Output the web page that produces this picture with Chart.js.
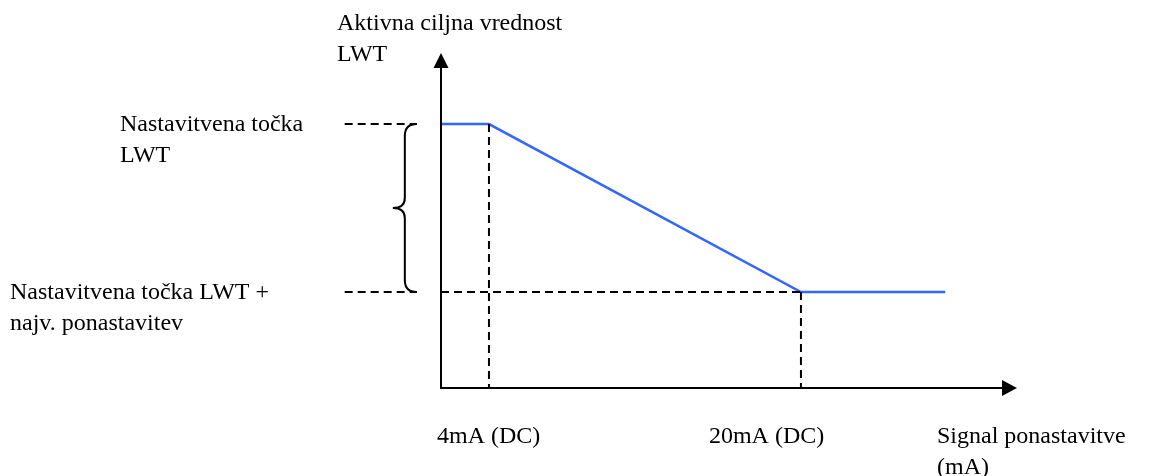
<!DOCTYPE html>
<html>
<head>
<meta charset="utf-8">
<script src="https://cdn.jsdelivr.net/npm/chart.js@4/dist/chart.umd.min.js"></script>
<style>
  html, body { margin: 0; padding: 0; background: #fff; }
  canvas { display: block; }
</style>
</head>
<body>
<canvas id="chart" width="1150" height="476"></canvas>
<script>
// reset signal (mA) and active LWT target (arbitrary units)
const signalMA = [1.54, 4, 20, 27.4];
const targetLWT = [11, 11, 4, 4];

// the two marked levels: setpoint and setpoint + max reset
const levelValues = [11, 4];
const levelLabels = [['Nastavitvena točka', 'LWT'], ['Nastavitvena točka LWT +', 'najv. ponastavitev']];

// marked signal values on the x axis
const tickMA = [4, 20];
const tickLabels = ['4mA (DC)', '20mA (DC)'];

const yTitle = ['Aktivna ciljna vrednost', 'LWT'];
const xTitle = ['Signal ponastavitve', '(mA)'];

// leader lines left of the y axis run between these x values
const leaderFrom = -3.4;
const leaderTo = 0.3;

const FONT = '24px "Liberation Serif", "Times New Roman", serif';
const BLUE = '#3366ff';

function dashed(data) {
  return {
    data: data,
    borderColor: '#000',
    borderWidth: 2,
    borderDash: [8, 5],
    pointRadius: 0,
    tension: 0,
    clip: false,
  };
}

const datasets = [];
// horizontal leaders to the level labels
levelValues.forEach(v => {
  datasets.push(dashed([{ x: leaderFrom, y: v }, { x: leaderTo, y: v }]));
});
// lower level continues inside the plot up to 20 mA
datasets.push(dashed([{ x: signalMA[0], y: levelValues[1] }, { x: tickMA[1], y: levelValues[1] }]));
// drops from the break points to the x axis
datasets.push(dashed([{ x: tickMA[0], y: targetLWT[1] }, { x: tickMA[0], y: 0 }]));
datasets.push(dashed([{ x: tickMA[1], y: targetLWT[2] }, { x: tickMA[1], y: 0 }]));
// the reset curve itself
datasets.push({
  data: signalMA.map((x, i) => ({ x: x, y: targetLWT[i] })),
  borderColor: BLUE,
  borderWidth: 2.5,
  pointRadius: 0,
  tension: 0,
  clip: false,
});

const decorations = {
  id: 'decorations',
  afterDraw(chart) {
    const ctx = chart.ctx;
    const area = chart.chartArea;
    const xs = chart.scales.x;
    const ys = chart.scales.y;
    ctx.save();

    // axes with arrow heads
    ctx.strokeStyle = '#000';
    ctx.fillStyle = '#000';
    ctx.lineWidth = 2;
    ctx.beginPath();
    ctx.moveTo(area.left, area.top + 12);
    ctx.lineTo(area.left, area.bottom);
    ctx.lineTo(area.right - 12, area.bottom);
    ctx.stroke();

    ctx.beginPath();
    ctx.moveTo(area.left, area.top);
    ctx.lineTo(area.left - 7.5, area.top + 15);
    ctx.lineTo(area.left + 7.5, area.top + 15);
    ctx.closePath();
    ctx.fill();

    ctx.beginPath();
    ctx.moveTo(area.right, area.bottom);
    ctx.lineTo(area.right - 15, area.bottom - 8);
    ctx.lineTo(area.right - 15, area.bottom + 8);
    ctx.closePath();
    ctx.fill();

    // curly brace between the two levels
    const yTop = ys.getPixelForValue(levelValues[0]);
    const yBot = ys.getPixelForValue(levelValues[1]);
    const yMid = (yTop + yBot) / 2;
    const hook = xs.getPixelForValue(leaderTo);
    const stem = hook - 12;
    const tip = stem - 12;
    ctx.beginPath();
    ctx.moveTo(hook, yTop);
    ctx.quadraticCurveTo(stem, yTop, stem, yTop + 12);
    ctx.lineTo(stem, yMid - 10);
    ctx.quadraticCurveTo(stem, yMid, tip, yMid);
    ctx.quadraticCurveTo(stem, yMid, stem, yMid + 10);
    ctx.lineTo(stem, yBot - 12);
    ctx.quadraticCurveTo(stem, yBot, hook, yBot);
    ctx.stroke();

    // texts
    ctx.font = FONT;
    ctx.textBaseline = 'alphabetic';
    ctx.textAlign = 'left';
    const lh = 31;

    yTitle.forEach((t, i) => ctx.fillText(t, area.left - 104, 30 + i * lh));

    const levelX = [120, 10];
    levelLabels.forEach((lines, k) => {
      const y0 = ys.getPixelForValue(levelValues[k]) + 7;
      lines.forEach((t, i) => ctx.fillText(t, levelX[k], y0 + i * lh));
    });

    const tickY = area.bottom + 55;
    ctx.fillText(tickLabels[0], xs.getPixelForValue(tickMA[0]) - 52, tickY);
    ctx.fillText(tickLabels[1], xs.getPixelForValue(tickMA[1]) - 92, tickY);
    xTitle.forEach((t, i) => ctx.fillText(t, 937, tickY + i * lh));

    ctx.restore();
  },
};

new Chart(document.getElementById('chart'), {
  type: 'line',
  data: { datasets: datasets },
  options: {
    responsive: false,
    animation: false,
    layout: { padding: { left: 441, right: 133, top: 53, bottom: 88 } },
    plugins: { legend: { display: false }, tooltip: { enabled: false } },
    scales: {
      x: { type: 'linear', min: signalMA[0], max: 31.08, display: false },
      y: { type: 'linear', min: 0, max: 13.96, display: false },
    },
  },
  plugins: [decorations],
});
</script>
</body>
</html>
